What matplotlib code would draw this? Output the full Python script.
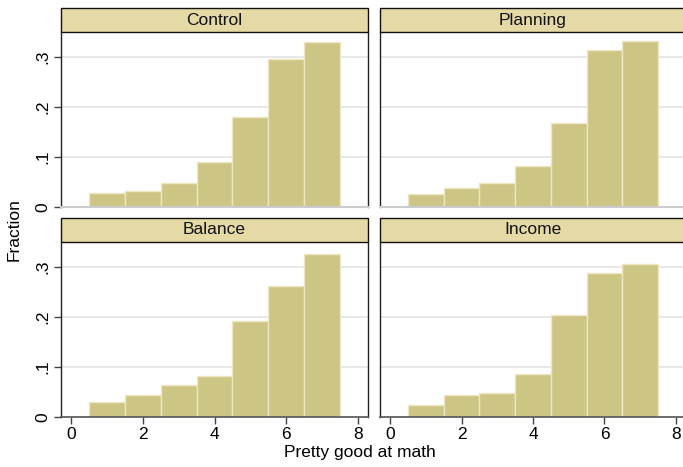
import matplotlib
matplotlib.use("Agg")
import matplotlib.pyplot as plt
from matplotlib.patches import Rectangle

plt.rcParams['font.family'] = ['Liberation Sans', 'DejaVu Sans']

# histogram data: bin centres 1..7, fraction per bin
bins = [1, 2, 3, 4, 5, 6, 7]
groups = ["Control", "Planning", "Balance", "Income"]
control = [0.029, 0.032, 0.048, 0.091, 0.181, 0.297, 0.331]
planning = [0.026, 0.038, 0.048, 0.083, 0.168, 0.314, 0.332]
balance = [0.030, 0.044, 0.065, 0.083, 0.193, 0.262, 0.327]
income = [0.025, 0.044, 0.048, 0.087, 0.205, 0.289, 0.306]
series = [control, planning, balance, income]

yticks = [0, 0.1, 0.2, 0.3]
ylabels = ["0", ".1", ".2", ".3"]
xticks = [0, 2, 4, 6, 8]

W, H = 683, 467
fig = plt.figure(figsize=(W / 100, H / 100), dpi=100)

bar_col = "#cdc584"
edge_col = "#ece7c2"
strip_col = "#e5daa6"
fs = 12.5

# panel boxes in pixels: (left, right, top, bottom)
boxes = [(61, 368, 32, 207), (380, 686, 32, 207),
         (61, 368, 242, 417), (380, 686, 242, 417)]

for i, (name, vals) in enumerate(zip(groups, series)):
    l, r, t, b = boxes[i]
    ax = fig.add_axes([l / W, 1 - b / H, (r - l) / W, (b - t) / H])
    ax.bar(bins, vals, width=1.0, color=bar_col, edgecolor=edge_col, linewidth=1.0, zorder=2)
    ax.set_xlim(-0.28, 8.28)
    ax.set_ylim(0, 0.35)
    ax.set_yticks(yticks)
    ax.yaxis.grid(True, color="#e4e4e4", linewidth=1.2, zorder=0)
    ax.set_axisbelow(True)
    for s in ["left", "right"]:
        ax.spines[s].set_color("#222222")
        ax.spines[s].set_linewidth(1.0)
    ax.spines["top"].set_visible(False)
    bottom_row = i >= 2
    if bottom_row:
        ax.spines["bottom"].set_color("#555555")
        ax.spines["bottom"].set_linewidth(1.2)
        ax.set_xticks(xticks)
        ax.tick_params(axis="x", length=5, width=1, color="#444444", labelsize=fs, pad=2)
    else:
        ax.spines["bottom"].set_color("#cccccc")
        ax.spines["bottom"].set_linewidth(1.5)
        ax.set_xticks([])
    if i % 2 == 0:
        ax.set_yticklabels(ylabels, rotation=90, va="center")
        ax.tick_params(axis="y", length=5, width=1, color="#444444", labelsize=fs, pad=3)
    else:
        ax.tick_params(axis="y", length=0, labelleft=False)
    ax.tick_params(axis="y", which="both", right=False)
    # strip title
    sh = 24 / (b - t)
    ax.add_patch(Rectangle((0, 1), 1, sh, transform=ax.transAxes, clip_on=False,
                           facecolor=strip_col, edgecolor="#111111", linewidth=1.0))
    ax.text(0.5, 1 + sh / 2, name, transform=ax.transAxes, ha="center", va="center",
            fontsize=fs, color="#111111")

fig.text(360 / W, 1 - 452 / H, "Pretty good at math", ha="center", va="center", fontsize=fs)
fig.text(14 / W, 1 - 230 / H, "Fraction", ha="center", va="center", rotation=90, fontsize=fs)

fig.savefig("out.png", dpi=100, facecolor="white")
